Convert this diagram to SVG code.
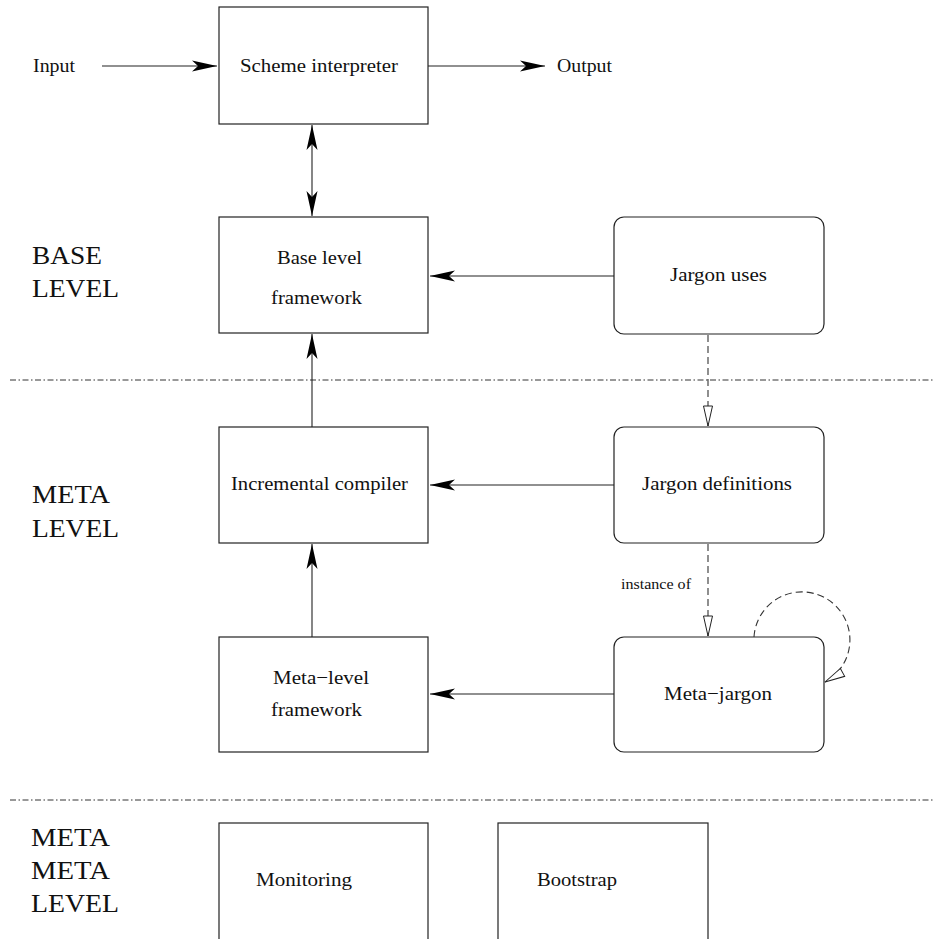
<svg xmlns="http://www.w3.org/2000/svg" width="935" height="939" viewBox="0 0 935 939">
<style>
.box{fill:none;stroke:#222;stroke-width:1.2}
.t{font-family:"Liberation Serif","Times New Roman",serif;font-size:19px;fill:#111}
.lvl{font-family:"Liberation Serif","Times New Roman",serif;font-size:25px;fill:#111}
.sm{font-family:"Liberation Serif","Times New Roman",serif;font-size:15px;fill:#111}
.c{stroke:#222;stroke-width:1.1;fill:none}
.d{stroke:#333;stroke-width:1.1;fill:none;stroke-dasharray:7 4}
.sep{stroke:#333;stroke-width:1;fill:none;stroke-dasharray:6 2.5 1.5 2.5}
</style>
<defs>
<marker id="fa" markerUnits="userSpaceOnUse" markerWidth="30" markerHeight="14" viewBox="-26 -7 27 14" refX="0" refY="0" orient="auto-start-reverse" overflow="visible">
<path d="M0,0 L-25,-5.5 L-19,0 L-25,5.5 Z" fill="#000"/>
</marker>
<marker id="ha" markerUnits="userSpaceOnUse" markerWidth="24" markerHeight="12" viewBox="-21 -6 22 12" refX="0" refY="0" orient="auto" overflow="visible">
<path d="M0,0 L-20,-4.5 L-20,4.5 Z" fill="#fff" stroke="#222" stroke-width="1"/>
</marker>
</defs>

<g id="separators">
<line class="sep" x1="10" y1="380" x2="935" y2="380"/>
<line class="sep" x1="10" y1="800" x2="935" y2="800"/>
</g>

<g id="level-labels">
<text class="lvl" x="32" y="264" textLength="70" lengthAdjust="spacingAndGlyphs">BASE</text>
<text class="lvl" x="32" y="297" textLength="87" lengthAdjust="spacingAndGlyphs">LEVEL</text>
<text class="lvl" x="32" y="503" textLength="78" lengthAdjust="spacingAndGlyphs">META</text>
<text class="lvl" x="32" y="537" textLength="87" lengthAdjust="spacingAndGlyphs">LEVEL</text>
<text class="lvl" x="31" y="846" textLength="79" lengthAdjust="spacingAndGlyphs">META</text>
<text class="lvl" x="31" y="879" textLength="79" lengthAdjust="spacingAndGlyphs">META</text>
<text class="lvl" x="31" y="912" textLength="88" lengthAdjust="spacingAndGlyphs">LEVEL</text>
</g>

<g id="input">
<text class="t" x="33" y="72" textLength="42" lengthAdjust="spacingAndGlyphs">Input</text>
</g>
<g id="output">
<text class="t" x="557" y="72" textLength="55" lengthAdjust="spacingAndGlyphs">Output</text>
</g>

<g id="scheme-interpreter">
<rect class="box" x="219" y="7" width="209" height="117"/>
<text class="t" x="240" y="72" textLength="158" lengthAdjust="spacingAndGlyphs">Scheme interpreter</text>
</g>

<g id="base-level-framework">
<rect class="box" x="219" y="217" width="209" height="116"/>
<text class="t" x="277" y="264" textLength="85" lengthAdjust="spacingAndGlyphs">Base level</text>
<text class="t" x="271" y="304" textLength="91" lengthAdjust="spacingAndGlyphs">framework</text>
</g>

<g id="jargon-uses">
<rect class="box" x="614" y="217" width="210" height="117" rx="10"/>
<text class="t" x="670" y="281" textLength="97" lengthAdjust="spacingAndGlyphs">Jargon uses</text>
</g>

<g id="incremental-compiler">
<rect class="box" x="219" y="427" width="209" height="116"/>
<text class="t" x="231" y="490" textLength="177" lengthAdjust="spacingAndGlyphs">Incremental compiler</text>
</g>

<g id="jargon-definitions">
<rect class="box" x="614" y="427" width="210" height="116" rx="10"/>
<text class="t" x="642" y="490" textLength="150" lengthAdjust="spacingAndGlyphs">Jargon definitions</text>
</g>

<g id="meta-level-framework">
<rect class="box" x="219" y="637" width="209" height="115"/>
<text class="t" x="273" y="684" textLength="96" lengthAdjust="spacingAndGlyphs">Meta−level</text>
<text class="t" x="271" y="716" textLength="91" lengthAdjust="spacingAndGlyphs">framework</text>
</g>

<g id="meta-jargon">
<rect class="box" x="614" y="637" width="210" height="115" rx="10"/>
<text class="t" x="664" y="700" textLength="108" lengthAdjust="spacingAndGlyphs">Meta−jargon</text>
</g>

<g id="monitoring">
<rect class="box" x="219" y="823" width="209" height="130"/>
<text class="t" x="256" y="886" textLength="96" lengthAdjust="spacingAndGlyphs">Monitoring</text>
</g>

<g id="bootstrap">
<rect class="box" x="498" y="823" width="210" height="130"/>
<text class="t" x="537" y="886" textLength="80" lengthAdjust="spacingAndGlyphs">Bootstrap</text>
</g>

<g id="connectors">
<line class="c" x1="102" y1="66" x2="217" y2="66" marker-end="url(#fa)"/>
<line class="c" x1="428" y1="66" x2="545" y2="66" marker-end="url(#fa)"/>
<line class="c" x1="312" y1="125" x2="312" y2="216" marker-start="url(#fa)" marker-end="url(#fa)"/>
<line class="c" x1="614" y1="276" x2="430" y2="276" marker-end="url(#fa)"/>
<line class="c" x1="312" y1="427" x2="312" y2="334" marker-end="url(#fa)"/>
<line class="c" x1="614" y1="485" x2="430" y2="485" marker-end="url(#fa)"/>
<line class="c" x1="312" y1="637" x2="312" y2="544" marker-end="url(#fa)"/>
<line class="c" x1="614" y1="694" x2="430" y2="694" marker-end="url(#fa)"/>
<line class="d" x1="708" y1="335" x2="708" y2="426" marker-end="url(#ha)"/>
<line class="d" x1="708" y1="544" x2="708" y2="636" marker-end="url(#ha)"/>
<text class="sm" x="621" y="589" textLength="70" lengthAdjust="spacingAndGlyphs">instance of</text>
<path class="d" d="M754,637 A48,48 0 1 1 825,682" marker-end="url(#ha)"/>
</g>
</svg>
